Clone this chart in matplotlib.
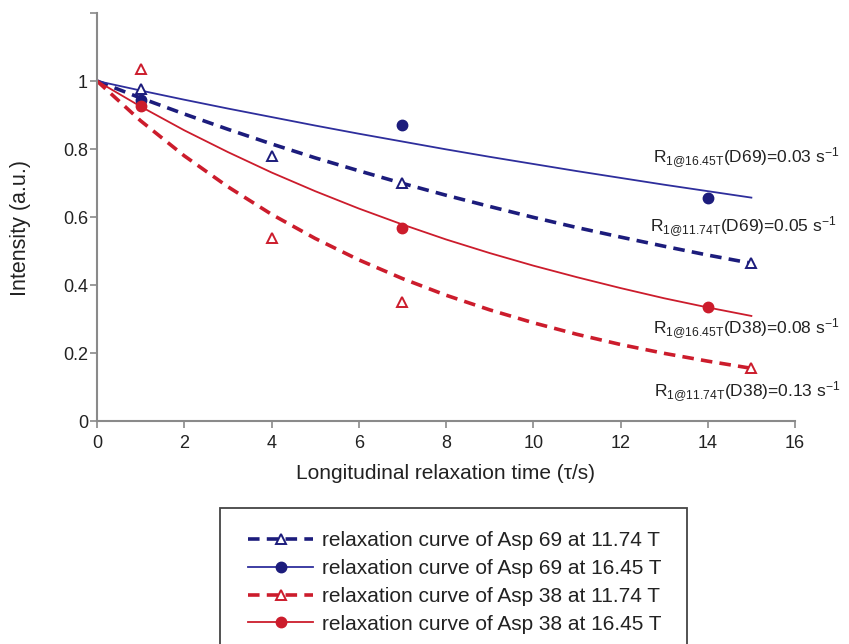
import matplotlib
matplotlib.use("Agg")
import matplotlib.pyplot as plt
from matplotlib.patches import Rectangle

plt.rcParams['font.family'] = ['Liberation Sans', 'DejaVu Sans']
plt.rcParams['mathtext.fontset'] = 'custom'
plt.rcParams['mathtext.rm'] = 'Liberation Sans'
plt.rcParams['mathtext.it'] = 'Liberation Sans'

# ---- data ----
fit_t = [0, 1, 2, 3, 4, 5, 6, 7, 8, 9, 10, 11, 12, 13, 14, 15]
fit_69_1174 = [1.000, 0.950, 0.903, 0.858, 0.815, 0.774, 0.736, 0.699, 0.664, 0.631,
               0.599, 0.569, 0.541, 0.514, 0.488, 0.464]
fit_69_1645 = [1.000, 0.972, 0.945, 0.919, 0.894, 0.869, 0.845, 0.822, 0.799, 0.777,
               0.756, 0.735, 0.715, 0.695, 0.676, 0.657]
fit_38_1174 = [1.000, 0.883, 0.780, 0.689, 0.608, 0.537, 0.474, 0.419, 0.370, 0.327,
               0.289, 0.255, 0.225, 0.199, 0.176, 0.155]
fit_38_1645 = [1.000, 0.925, 0.855, 0.791, 0.731, 0.676, 0.625, 0.578, 0.534, 0.494,
               0.457, 0.423, 0.391, 0.361, 0.334, 0.309]

t_1174 = [1, 4, 7, 15]
pts_69_1174 = [0.976, 0.779, 0.701, 0.464]
pts_38_1174 = [1.034, 0.537, 0.351, 0.155]
t_1645 = [1, 7, 14]
pts_69_1645 = [0.944, 0.871, 0.657]
pts_38_1645 = [0.926, 0.567, 0.334]

labels = ["relaxation curve of Asp 69 at 11.74 T",
          "relaxation curve of Asp 69 at 16.45 T",
          "relaxation curve of Asp 38 at 11.74 T",
          "relaxation curve of Asp 38 at 16.45 T"]

annotations = [r"R$_{\mathrm{1@16.45T}}$(D69)=0.03 s$^{-1}$",
               r"R$_{\mathrm{1@11.74T}}$(D69)=0.05 s$^{-1}$",
               r"R$_{\mathrm{1@16.45T}}$(D38)=0.08 s$^{-1}$",
               r"R$_{\mathrm{1@11.74T}}$(D38)=0.13 s$^{-1}$"]
ann_x = [12.75, 12.68, 12.75, 12.77]
ann_y = [0.759, 0.557, 0.258, 0.0715]

xticks = [0, 2, 4, 6, 8, 10, 12, 14, 16]
yticks = [0, 0.2, 0.4, 0.6, 0.8, 1.0, 1.2]
yticklabels = ["0", "0.2", "0.4", "0.6", "0.8", "1", ""]

# ---- style ----
navy = "#1c1c7c"
blue = "#2e2e9c"
red = "#cc1c2c"
W, H = 849, 644

fig = plt.figure(figsize=(W / 100, H / 100), dpi=100)
ax = fig.add_axes([97 / W, 1 - 421 / H, (795 - 97) / W, (421 - 13) / H])

dash = (0, (3.2, 2.0))
ax.plot(fit_t, fit_69_1174, color=navy, lw=2.6, linestyle=dash)
ax.plot(fit_t, fit_69_1645, color=blue, lw=1.3)
ax.plot(fit_t, fit_38_1174, color=red, lw=2.6, linestyle=dash)
ax.plot(fit_t, fit_38_1645, color=red, lw=1.3)

ax.plot(t_1174, pts_69_1174, linestyle='none', marker='^', ms=7.5, mfc='white',
        mec=navy, mew=1.4)
ax.plot(t_1645, pts_69_1645, linestyle='none', marker='o', ms=7.5, mfc=navy, mec=navy)
ax.plot(t_1174, pts_38_1174, linestyle='none', marker='^', ms=7.5, mfc='white',
        mec=red, mew=1.4)
ax.plot(t_1645, pts_38_1645, linestyle='none', marker='o', ms=7.5, mfc=red, mec=red)

for s, x, y in zip(annotations, ann_x, ann_y):
    ax.text(x, y, s, fontsize=12.5, ha='left', va='baseline', color='#222222',
            clip_on=False)

ax.set_xlim(0, 16)
ax.set_ylim(0, 1.2)
ax.set_xticks(xticks)
ax.set_yticks(yticks)
ax.set_yticklabels(yticklabels)
for s in ['top', 'right']:
    ax.spines[s].set_visible(False)
for s in ['left', 'bottom']:
    ax.spines[s].set_color('#8a8a8a')
    ax.spines[s].set_linewidth(1.5)
ax.tick_params(axis='both', colors='#8a8a8a', labelcolor='#222222', labelsize=13,
               length=5, width=1.2, direction='out')
ax.tick_params(axis='x', pad=5)
ax.tick_params(axis='y', pad=1.5)

ax.set_xlabel("Longitudinal relaxation time (τ/s)", fontsize=15, color='#222222',
              labelpad=9)
ax.set_ylabel("Intensity (a.u.)", fontsize=15.5, color='#222222')
ax.yaxis.set_label_coords(-0.095, 0.473)

# legend handles with markers
lh1, = ax.plot([], [], color=navy, lw=2.6, linestyle=dash, marker='^', ms=7.5,
               mfc='white', mec=navy, mew=1.4)
lh2, = ax.plot([], [], color=blue, lw=1.3, marker='o', ms=7.5, mfc=navy, mec=navy)
lh3, = ax.plot([], [], color=red, lw=2.6, linestyle=dash, marker='^', ms=7.5,
               mfc='white', mec=red, mew=1.4)
lh4, = ax.plot([], [], color=red, lw=1.3, marker='o', ms=7.5, mfc=red, mec=red)

leg = fig.legend([lh1, lh2, lh3, lh4], labels, loc='upper left',
                 bbox_to_anchor=(238 / W, 1 - 521 / H), frameon=False,
                 fontsize=15, handlelength=3.1, handletextpad=0.45,
                 labelspacing=0.42, numpoints=1, borderpad=0)
for t in leg.get_texts():
    t.set_color('#222222')

fig.patches.append(Rectangle((220 / W, -0.05), (687 - 220) / W, 0.05 + 1 - 508 / H,
                             transform=fig.transFigure, fill=False,
                             edgecolor='#444444', lw=1.3))

fig.savefig("out.png", dpi=100)
